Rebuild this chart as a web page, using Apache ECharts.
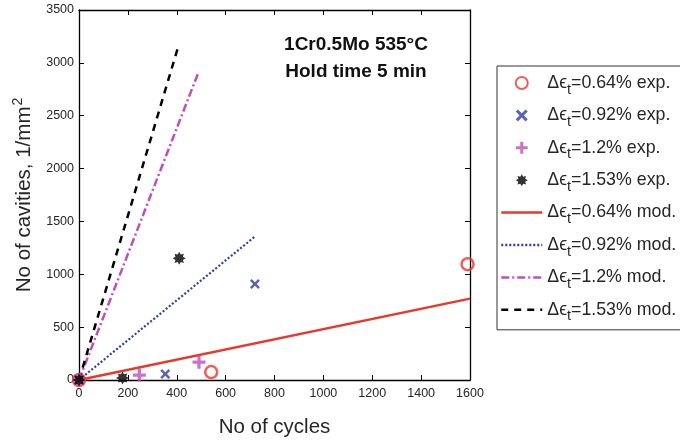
<!DOCTYPE html>
<html><head><meta charset="utf-8">
<script src="https://cdn.jsdelivr.net/npm/echarts@6/dist/echarts.min.js"></script>
<style>html,body{margin:0;padding:0;background:#fff}#c{width:680px;height:443px}</style>
</head><body><div id="c"></div>
<script>
// Experimental data [cycles, cavities]
const exp064 = [[0,0],[541,75],[1590,1095]];
const exp092 = [[0,0],[353,56],[720,908]];
const exp120 = [[0,0],[247,47],[491,168]];
const exp153 = [[0,0],[178,19],[410,1151]];
// Model lines
const mod064 = [[0,0],[1600,770]];
const mod092 = [[0,0],[720,1357]];
const mod120 = [[0,0],[488,2905]];
const mod153 = [[0,0],[406,3154]];
const strains = ['0.64%','0.92%','1.2%','1.53%'];
const xTicks = {min:0,max:1600,interval:200};
const yTicks = {min:0,max:3500,interval:500};

const RED='#e8382c', BLUE='#2f3f9f', MAG='#bd4fbd', BLK='#000';
const FONT='Liberation Sans, Arial, sans-serif';
const plusPath='path://M-1,-4H1V-1H4V1H1V4H-1V1H-4V-1H-1Z';
const xPath='path://M-2.5,-3.9L0,-1.4L2.5,-3.9L3.9,-2.5L1.4,0L3.9,2.5L2.5,3.9L0,1.4L-2.5,3.9L-3.9,2.5L-1.4,0L-3.9,-2.5Z';
function starPath(){let p='';const n=8;for(let i=0;i<2*n;i++){const r=i%2?2.5:4;const a=Math.PI*i/n - Math.PI/2;p+=(i?'L':'M')+(r*Math.cos(a)).toFixed(3)+','+(r*Math.sin(a)).toFixed(3);}return 'path://'+p+'Z';}

const names = strains.map(s=>s+' exp.').concat(strains.map(s=>s+' mod.'));
const legendData = names.map((n,i)=> i<4 ? {name:n} :
  {name:n, itemStyle:{color:'rgba(0,0,0,0)',borderColor:'rgba(0,0,0,0)',borderWidth:0}});

const chart = echarts.init(document.getElementById('c'));
const tickIn = {show:true,inside:true,length:5,lineStyle:{color:'#000',width:1}};
const line = {show:true,onZero:false,lineStyle:{color:'#000',width:1.3}};
const lbl = {fontSize:12.5,color:'#262626',fontFamily:FONT,formatter:v=>String(v)};
chart.setOption({
  animation:false,
  grid:{left:79,top:10,right:210,bottom:59,containLabel:false},
  xAxis:[
    {type:'value',position:'bottom',...xTicks,axisLine:line,axisTick:tickIn,splitLine:{show:false},
      name:'No of cycles',nameLocation:'middle',nameGap:37,
      nameTextStyle:{fontSize:20.5,color:'#262626',fontFamily:FONT},
      axisLabel:Object.assign({margin:7},lbl)},
    {type:'value',position:'top',...xTicks,axisLine:line,axisTick:tickIn,splitLine:{show:false},axisLabel:{show:false}}
  ],
  yAxis:[
    {type:'value',position:'left',...yTicks,axisLine:line,axisTick:tickIn,splitLine:{show:false},
      name:'{a|No of cavities, 1/mm}{s|2}',nameLocation:'middle',nameGap:39,
      nameTextStyle:{rich:{a:{fontSize:20.5,color:'#262626',fontFamily:FONT},s:{fontSize:14,color:'#262626',fontFamily:FONT,padding:[0,0,14,1]}}},
      axisLabel:Object.assign({margin:5},lbl)},
    {type:'value',position:'right',...yTicks,axisLine:line,axisTick:tickIn,splitLine:{show:false},axisLabel:{show:false}}
  ],
  legend:{
    orient:'vertical',left:497,top:66,
    padding:[8,30,6,3],itemGap:9.4,itemWidth:41,itemHeight:12,
    borderColor:'#333',borderWidth:1,
    data:legendData,
    lineStyle:{width:2.5},
    formatter:function(n){return '{a|Δϵ}{t|t}{a|='+n+'}';},
    textStyle:{rich:{
      a:{fontSize:17.8,color:'#262626',fontFamily:FONT},
      t:{fontSize:14.5,color:'#262626',fontFamily:FONT,padding:[13,0,0,0]}
    }}
  },
  graphic:[
    {type:'text',x:356,y:35,style:{text:'1Cr0.5Mo 535°C',font:'bold 19px '+FONT,fill:'#111',align:'center'}},
    {type:'text',x:356,y:62,style:{text:'Hold time 5 min',font:'bold 19px '+FONT,fill:'#111',align:'center'}}
  ],
  series:[
    {name:names[0],type:'scatter',data:exp064,symbol:'circle',symbolSize:12,itemStyle:{color:'rgba(0,0,0,0)',borderColor:RED,borderWidth:2.5},z:5},
    {name:names[1],type:'scatter',data:exp092,symbol:xPath,symbolSize:10,itemStyle:{color:BLUE},z:5},
    {name:names[2],type:'scatter',data:exp120,symbol:plusPath,symbolSize:13,itemStyle:{color:MAG},z:5},
    {name:names[3],type:'scatter',data:exp153,symbol:starPath(),symbolSize:13,itemStyle:{color:BLK},z:5},
    {name:names[4],type:'line',data:mod064,symbol:'circle',showSymbol:false,lineStyle:{color:RED,width:2.5,type:'solid'},itemStyle:{color:RED}},
    {name:names[5],type:'line',data:mod092,symbol:'circle',showSymbol:false,lineStyle:{color:BLUE,width:2.2,type:[2,2]},itemStyle:{color:BLUE}},
    {name:names[6],type:'line',data:mod120,symbol:'circle',showSymbol:false,lineStyle:{color:MAG,width:2.5,type:[8,3,2,3]},itemStyle:{color:MAG}},
    {name:names[7],type:'line',data:mod153,symbol:'circle',showSymbol:false,lineStyle:{color:BLK,width:2.5,type:[7,6]},itemStyle:{color:BLK}}
  ]
});
</script></body></html>
